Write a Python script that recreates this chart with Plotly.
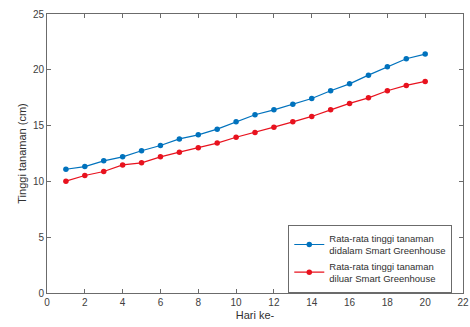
import plotly.graph_objects as go

hari = list(range(1, 21))
dalam = [11.09, 11.33, 11.84, 12.2, 12.75, 13.22, 13.81, 14.17, 14.68, 15.34,
         15.97, 16.41, 16.92, 17.43, 18.12, 18.74, 19.52, 20.27, 20.99, 21.41]
luar = [10.02, 10.53, 10.89, 11.48, 11.66, 12.2, 12.62, 13.02, 13.43, 13.96,
        14.38, 14.86, 15.34, 15.82, 16.41, 16.99, 17.49, 18.12, 18.6, 18.96]

name_dalam = "Rata-rata tinggi tanaman<br>didalam Smart Greenhouse"
name_luar = "Rata-rata tinggi tanaman<br>diluar Smart Greenhouse"
x_ticks = list(range(0, 23, 2))
y_ticks = list(range(0, 26, 5))

fig = go.Figure()
fig.add_trace(go.Scatter(x=hari, y=dalam, mode="lines+markers", name=name_dalam,
                         line=dict(color="#0072BD", width=1.2),
                         marker=dict(color="#0072BD", size=5.5)))
fig.add_trace(go.Scatter(x=hari, y=luar, mode="lines+markers", name=name_luar,
                         line=dict(color="#E8121E", width=1.2),
                         marker=dict(color="#E8121E", size=5.5)))

axis_common = dict(showgrid=False, zeroline=False, showline=True, linecolor="#6b6b6b",
                   linewidth=1, mirror="ticks", ticks="inside", ticklen=4, automargin=False,
                   tickcolor="#6b6b6b", tickfont=dict(family="Liberation Sans, Arial", size=10, color="#404040"))

fig.update_xaxes(range=[0, 22], tickvals=x_ticks,
                 title=dict(text="Hari ke-", font=dict(family="Liberation Sans, Arial", size=11, color="#303030"), standoff=4),
                 **axis_common)
fig.update_yaxes(range=[0, 25], tickvals=y_ticks,
                 title=dict(text="Tinggi tanaman (cm)", font=dict(family="Liberation Sans, Arial", size=11, color="#303030"), standoff=4),
                 **axis_common)

fig.update_layout(
    width=470, height=327,
    margin=dict(l=47, r=7, t=14, b=34),
    paper_bgcolor="white", plot_bgcolor="white",
    legend=dict(x=0.58, y=0.245, xanchor="left", yanchor="top",
                bordercolor="#6b6b6b", borderwidth=1, bgcolor="white",
                font=dict(family="Liberation Sans, Arial", size=9.5, color="#303030"),
                tracegroupgap=0, itemwidth=30),
    showlegend=True,
)

fig.write_html("out.html", config={"displayModeBar": False},
               post_script="document.body.style.margin='0';document.body.style.overflow='hidden';")
